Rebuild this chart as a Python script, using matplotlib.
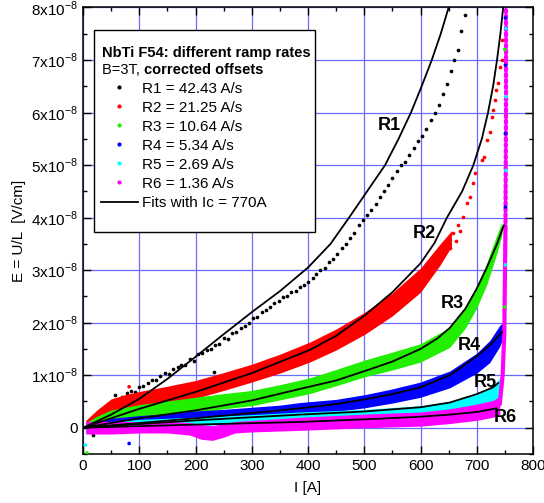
import matplotlib
matplotlib.use("Agg")
import matplotlib.pyplot as plt
from matplotlib.lines import Line2D
from matplotlib.patches import Rectangle
from matplotlib.ticker import MultipleLocator, FixedLocator, FixedFormatter

plt.rcParams['font.family'] = ['Liberation Sans', 'DejaVu Sans']
plt.rcParams['mathtext.fontset'] = 'custom'
plt.rcParams['mathtext.rm'] = 'Liberation Sans'
plt.rcParams['mathtext.bf'] = 'Liberation Sans:bold'

# E values are in units of 1e-8 V/cm, I in A
labels = ["R1 = 42.43 A/s", "R2 = 21.25 A/s", "R3 = 10.64 A/s",
          "R4 = 5.34 A/s", "R5 = 2.69 A/s", "R6 = 1.36 A/s"]
colors = ["black", "#ff0000", "#22ee00", "#0000ff", "#00ffff", "#ff00ff"]

# R1 measured points (sparse)
r1_I = [12, 18, 25, 33, 40, 48, 56, 63, 70, 78, 85, 92, 100, 107, 115, 122, 130, 137,
        145, 152, 160, 168, 175, 182, 190, 197, 205, 212, 220, 228, 232, 235, 242, 250,
        258, 265, 272, 280, 288, 295, 302, 310, 318, 325, 332, 340, 348, 355, 362, 370,
        378, 385, 392, 400, 408, 415, 422, 430, 438, 445, 452, 460, 468, 475, 482, 490,
        498, 505, 512, 520, 528, 535, 542, 550, 558, 565, 572, 580, 588, 595, 602, 610,
        618, 625, 632, 640, 647, 654, 660, 666, 672, 679]
r1_E = [0.05, -0.13, 0.2, 0.3, 0.32, 0.45, 0.62, 0.5, 0.58, 0.66, 0.7, 0.68, 0.78, 0.8,
        0.85, 0.9, 0.9, 0.98, 1.05, 1.02, 1.12, 1.15, 1.2, 1.2, 1.3, 1.28, 1.4, 1.42,
        1.48, 1.5, 1.06, 1.58, 1.6, 1.7, 1.68, 1.8, 1.82, 1.9, 1.93, 2.0, 2.08, 2.1, 2.2,
        2.25, 2.3, 2.38, 2.42, 2.48, 2.5, 2.58, 2.6, 2.68, 2.72, 2.78, 2.85, 2.92, 3.0,
        3.05, 3.15, 3.22, 3.3, 3.42, 3.5, 3.62, 3.7, 3.85, 3.95, 4.05, 4.15, 4.25, 4.4,
        4.5, 4.62, 4.75, 4.88, 5.0, 5.05, 5.2, 5.32, 5.45, 5.55, 5.68, 5.85, 6.0, 6.15,
        6.35, 6.55, 6.8, 7.0, 7.2, 7.55, 7.86]

# dense bands: lower / upper edges of the point clouds
r2_I = [5, 25, 50, 75, 100, 150, 200, 250, 300, 350, 403, 450, 501, 550, 600, 635, 655]
r2_lo = [0.0, 0.06, 0.2, 0.3, 0.36, 0.46, 0.56, 0.71, 0.87, 1.04, 1.25, 1.48, 1.78, 2.13,
         2.58, 3.1, 3.45]
r2_hi = [0.14, 0.34, 0.55, 0.63, 0.69, 0.79, 0.9, 1.05, 1.21, 1.4, 1.63, 1.88, 2.2, 2.57,
         3.04, 3.5, 3.75]
r2_tail_I = [652, 658, 663, 667, 671, 676, 682, 688, 694, 697, 709, 712, 718, 724, 727, 729,
             732, 735, 738, 741, 744, 744]
r2_tail_E = [3.42, 3.7, 3.55, 3.85, 3.75, 4.02, 4.27, 4.4, 4.65, 4.84, 5.1, 5.16, 5.48, 5.63,
             5.92, 6.05, 6.24, 6.43, 6.56, 6.87, 7.0, 7.38]

r3_I = [5, 25, 50, 100, 150, 200, 250, 300, 350, 403, 450, 501, 550, 600, 652, 680, 700, 718, 736, 745]
r3_lo = [-0.08, 0.0, 0.07, 0.16, 0.23, 0.29, 0.36, 0.42, 0.53, 0.65, 0.8, 0.97, 1.1, 1.25,
         1.53, 1.9, 2.28, 2.73, 3.33, 3.68]
r3_hi = [0.1, 0.22, 0.34, 0.44, 0.51, 0.58, 0.65, 0.71, 0.82, 0.95, 1.11, 1.29, 1.44, 1.6,
         1.91, 2.3, 2.7, 3.15, 3.68, 3.92]

r4_I = [5, 50, 100, 150, 200, 250, 300, 350, 386, 450, 501, 550, 600, 652, 700, 723, 741, 746]
r4_lo = [-0.08, 0.02, 0.07, 0.11, 0.14, 0.17, 0.2, 0.23, 0.27, 0.31, 0.38, 0.47, 0.58, 0.76,
         1.04, 1.24, 1.55, 1.7]
r4_hi = [0.08, 0.18, 0.23, 0.27, 0.32, 0.35, 0.39, 0.43, 0.48, 0.54, 0.63, 0.74, 0.87, 1.08,
         1.42, 1.66, 1.95, 2.0]

r5_I = [5, 100, 200, 300, 386, 501, 600, 652, 700, 729, 741]
r5_lo = [-0.1, 0.0, 0.04, 0.08, 0.12, 0.16, 0.2, 0.25, 0.33, 0.42, 0.5]
r5_hi = [0.08, 0.16, 0.2, 0.25, 0.3, 0.35, 0.42, 0.5, 0.63, 0.78, 0.95]

r6_I = [5, 50, 100, 150, 190, 210, 230, 250, 270, 300, 386, 501, 600, 652, 700, 729, 741]
r6_lo = [-0.12, -0.12, -0.1, -0.1, -0.14, -0.22, -0.24, -0.18, -0.1, -0.08, -0.05, 0.0, 0.03,
         0.08, 0.14, 0.2, 0.25]
r6_hi = [0.12, 0.12, 0.12, 0.12, 0.1, 0.06, 0.04, 0.08, 0.12, 0.14, 0.2, 0.26, 0.3, 0.36,
         0.45, 0.52, 0.6]

# steep rise close to the critical current
col_I = [741, 746, 749, 750, 751]
col_E = [0.45, 1.0, 1.8, 2.8, 3.8]
col_top_I = [751, 752, 752]
col_top_E = [3.8, 6.0, 7.95]
col_mix_I = [750, 751, 751, 752, 751, 752, 751, 750, 752, 751]
col_mix_E = [2.3, 3.1, 4.2, 4.9, 5.6, 6.3, 6.9, 7.2, 7.6, 7.8]
col_mix_c = ["#22ee00", "#00ffff", "#0000ff", "#00ffff", "#0000ff", "#00ffff", "#0000ff",
             "#22ee00", "#00ffff", "#0000ff"]

# outliers near zero
out_I = [4, 82, 7, 82, 150]
out_E = [-0.33, -0.3, -0.48, 0.78, 0.62]
out_c = ["#00ffff", "#0000ff", "#22ee00", "#ff0000", "#ff0000"]

# fits with Ic = 770 A
fit1_I = [0, 50, 100, 150, 200, 250, 300, 350, 400, 440, 473, 505, 537, 561, 583, 602, 620, 636, 650]
fit1_E = [0, 0.25, 0.55, 0.93, 1.35, 1.78, 2.2, 2.6, 3.05, 3.5, 4.0, 4.5, 5.0, 5.5, 6.0, 6.5, 7.0, 7.5, 8.0]
fit2_I = [0, 100, 200, 300, 403, 450, 501, 550, 600, 625, 647, 674, 694, 709, 720, 729, 736, 742, 747]
fit2_E = [0, 0.36, 0.68, 1.04, 1.48, 1.75, 2.14, 2.58, 3.13, 3.52, 4.0, 4.5, 5.0, 5.5, 6.0, 6.5, 7.0, 7.5, 8.0]
fit3_I = [0, 100, 200, 300, 386, 450, 501, 550, 600, 630, 652, 680, 700, 718, 736, 748]
fit3_E = [0, 0.18, 0.33, 0.52, 0.74, 0.9, 1.08, 1.26, 1.5, 1.7, 1.9, 2.27, 2.65, 3.05, 3.5, 3.85]
fit4_I = [0, 100, 200, 300, 386, 450, 501, 550, 600, 652, 700, 723, 745]
fit4_E = [0, 0.09, 0.18, 0.28, 0.37, 0.45, 0.54, 0.64, 0.77, 1.0, 1.36, 1.57, 1.82]
fit5_I = [0, 200, 300, 386, 501, 600, 652, 700, 729, 738]
fit5_E = [0, 0.14, 0.2, 0.25, 0.31, 0.39, 0.48, 0.64, 0.77, 0.85]
fit6_I = [0, 200, 386, 501, 600, 652, 700, 735]
fit6_E = [0, 0.06, 0.11, 0.16, 0.21, 0.25, 0.3, 0.37]

curve_labels = ["R1", "R2", "R3", "R4", "R5", "R6"]
label_I = [544, 606, 656, 686, 715, 750]
label_E = [5.76, 3.7, 2.37, 1.57, 0.87, 0.2]

fig = plt.figure(figsize=(5.44, 5.03), dpi=100)
ax = fig.add_axes([0.1526, 0.0974, 0.8272, 0.8877])

ax.set_axisbelow(True)
ax.grid(True, which='major', color='#6b6bff', lw=0.9)

ms = 7
ax.scatter(r1_I, r1_E, s=ms, color=colors[0], lw=0, zorder=3)
ax.fill_between(r2_I, r2_lo, r2_hi, color=colors[1], lw=0, zorder=3)
ax.scatter(r2_tail_I, r2_tail_E, s=ms, color=colors[1], lw=0, zorder=3)
ax.fill_between(r3_I, r3_lo, r3_hi, color=colors[2], lw=0, zorder=3)
ax.fill_between(r4_I, r4_lo, r4_hi, color=colors[3], lw=0, zorder=3)
ax.fill_between(r5_I, r5_lo, r5_hi, color=colors[4], lw=0, zorder=3)
ax.fill_between(r6_I, r6_lo, r6_hi, color=colors[5], lw=0, zorder=3)
ax.plot(col_I, col_E, color=colors[5], lw=3, solid_capstyle='round', zorder=3)
ax.plot(col_top_I, col_top_E, color=colors[5], lw=3, ls=(0, (0.6, 0.8)),
        dash_capstyle='round', zorder=3)
ax.scatter(col_mix_I, col_mix_E, s=ms, c=col_mix_c, lw=0, zorder=3)
ax.scatter(out_I, out_E, s=ms, c=out_c, lw=0, zorder=3)

for fi, fe in [(fit1_I, fit1_E), (fit2_I, fit2_E), (fit3_I, fit3_E),
               (fit4_I, fit4_E), (fit5_I, fit5_E), (fit6_I, fit6_E)]:
    ax.plot(fi, fe, color='black', lw=1.3, zorder=4)

for t, xi, ye in zip(curve_labels, label_I, label_E):
    ax.text(xi, ye, t, fontsize=13, fontweight='bold', ha='center', va='center', zorder=5)

ax.set_xlim(0, 800)
ax.set_ylim(-0.5, 8)
ax.xaxis.set_major_locator(MultipleLocator(100))
ax.xaxis.set_minor_locator(MultipleLocator(50))
yt = list(range(0, 9))
ax.yaxis.set_major_locator(FixedLocator(yt))
ax.yaxis.set_major_formatter(FixedFormatter(["0"] + [f"{k}x10$^{{-8}}$" for k in yt[1:]]))
ax.yaxis.set_minor_locator(MultipleLocator(0.5))
ax.tick_params(which='both', direction='in', top=True, right=True, labelsize=11)
ax.tick_params(which='major', length=6, width=1)
ax.tick_params(which='minor', length=3, width=1)
for s in ax.spines.values():
    s.set_linewidth(1.1)

ax.set_xlabel("I [A]", fontsize=11, labelpad=6)
ax.set_ylabel("E = U/L  [V/cm]", fontsize=11, labelpad=4)

# legend box drawn separately so its size matches the original
ax.add_patch(Rectangle((0.0244, 0.497), 0.491, 0.452, transform=ax.transAxes,
                       facecolor='white', edgecolor='black', lw=1.0, zorder=6))
t1 = ax.text(0.042, 0.899, "NbTi F54: different ramp rates", transform=ax.transAxes,
             fontsize=10.5, fontweight='bold', ha='left', va='center', zorder=7)
t2 = ax.text(0.042, 0.861, "B=3T, ", transform=ax.transAxes,
             fontsize=10.5, ha='left', va='center', zorder=7)
ax.annotate("corrected offsets", xy=(1, 0.5), xycoords=t2, fontsize=10.5,
            fontweight='bold', ha='left', va='center', zorder=7)

handles = [Line2D([], [], ls='none', marker='o', markersize=3, color=c, mec='none') for c in colors]
handles.append(Line2D([], [], color='black', lw=1.3))
leg = ax.legend(handles, labels + ["Fits with Ic = 770A"],
                loc='upper left', bbox_to_anchor=(0.04, 0.834), fontsize=11,
                frameon=False, labelspacing=0.33, handlelength=2.4,
                handletextpad=0.3, borderpad=0, borderaxespad=0)
leg.set_zorder(7)

fig.savefig("out.png", dpi=100)
